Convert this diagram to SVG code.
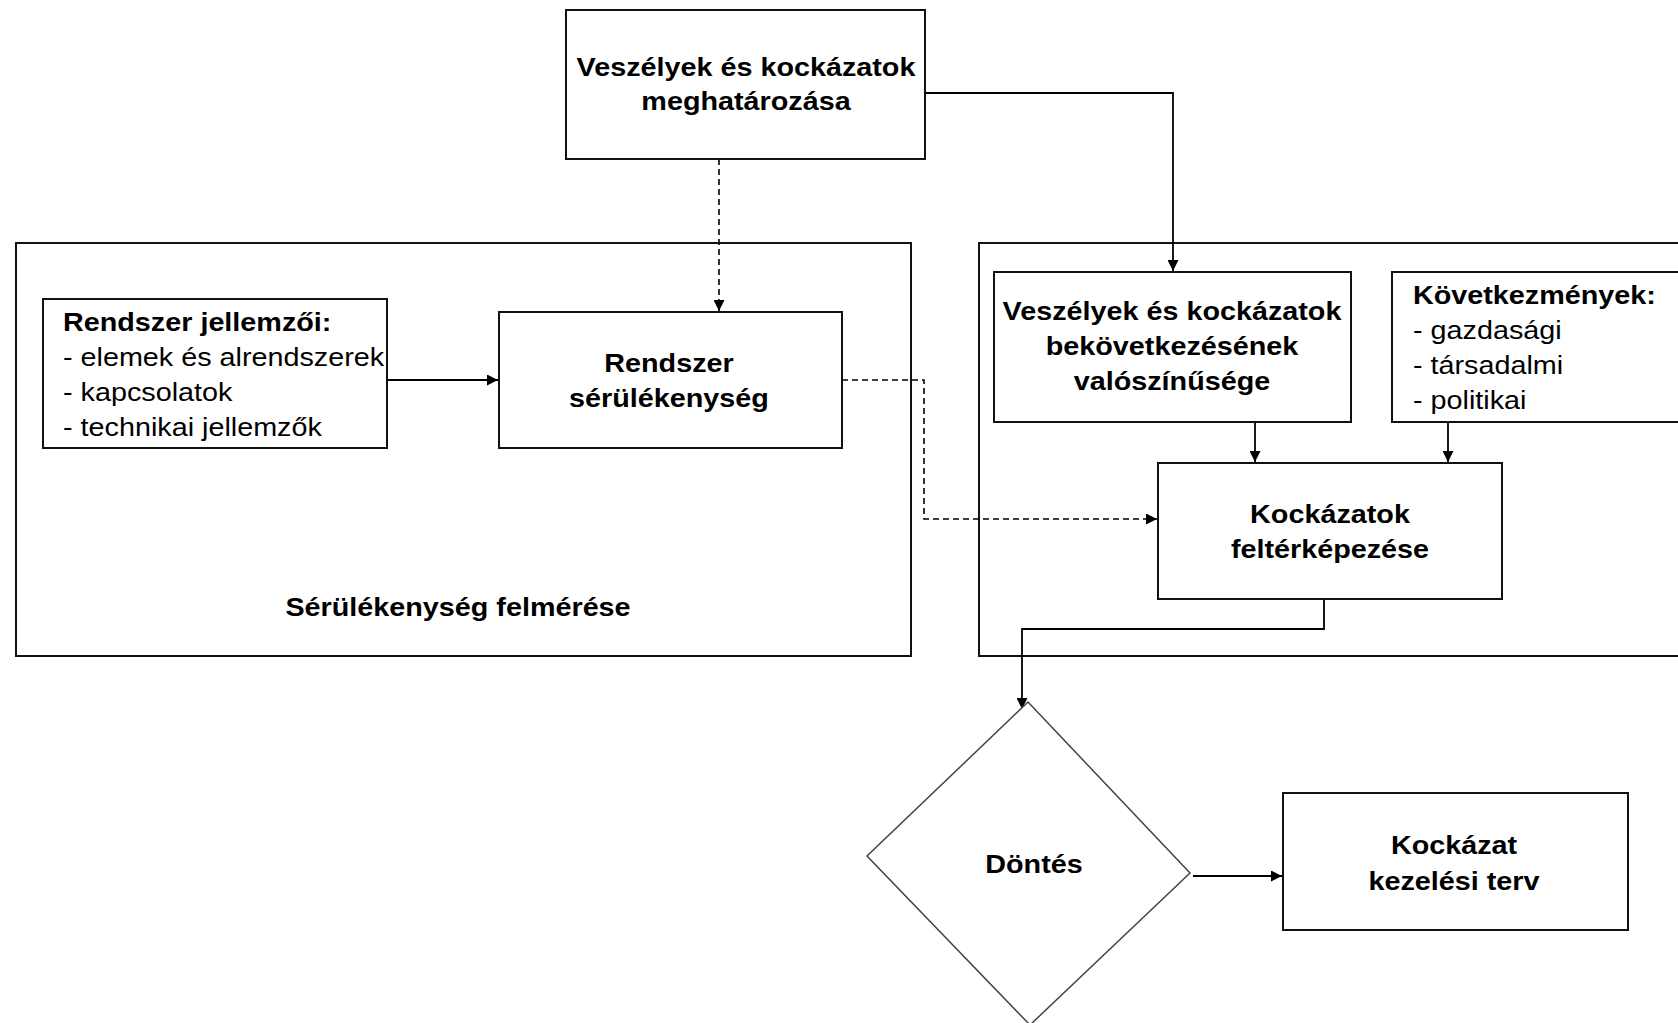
<svg xmlns="http://www.w3.org/2000/svg" width="1678" height="1023" viewBox="0 0 1678 1023">
<defs>
<style>
.box{fill:#fff;stroke:#111;stroke-width:2}
.cont{fill:none;stroke:#111;stroke-width:2}
.dia{fill:#fff;stroke:#444;stroke-width:1.5}
.ln{fill:none;stroke:#000;stroke-width:1.8}
.dash{fill:none;stroke:#000;stroke-width:1.6;stroke-dasharray:6 4}
text{font-family:"Liberation Sans",Arial,sans-serif;font-size:25px;fill:#000}
.b{font-weight:bold;text-anchor:middle}
.bl{font-weight:bold}
</style>
<marker id="ah" viewBox="0 0 10 10" refX="10" refY="5" markerWidth="11" markerHeight="11" markerUnits="userSpaceOnUse" orient="auto">
<path d="M0,0 L10,5 L0,10 z" fill="#000"/>
</marker>
</defs>
<rect width="1678" height="1023" fill="#fff"/>

<g id="container-left">
<rect class="cont" x="16" y="243" width="895" height="413"/>
<g transform="translate(458 0) scale(1.15 1)"><text class="b" x="0" y="616">Sérülékenység felmérése</text></g>
</g>
<g id="container-right">
<rect class="cont" x="979" y="243" width="720" height="413"/>
</g>

<g id="connectors">
<path class="ln" d="M925,93 H1173 V271" marker-end="url(#ah)"/>
<path class="dash" d="M719,159 V311" marker-end="url(#ah)"/>
<path class="ln" d="M387,380 H498" marker-end="url(#ah)"/>
<path class="dash" d="M842,380 H924 V519 H1157" marker-end="url(#ah)"/>
<path class="ln" d="M1255,422 V462" marker-end="url(#ah)"/>
<path class="ln" d="M1448,422 V462" marker-end="url(#ah)"/>
<path class="ln" d="M1324,599 V629 H1022 V709" marker-end="url(#ah)"/>
<path class="ln" d="M1193,876 H1282" marker-end="url(#ah)"/>
</g>

<g id="node-top">
<rect class="box" x="566" y="10" width="359" height="149"/>
<g transform="translate(746 0) scale(1.15 1)">
<text class="b" x="0" y="76">Veszélyek és kockázatok</text>
<text class="b" x="0" y="110">meghatározása</text>
</g>
</g>

<g id="node-jellemzoi">
<rect class="box" x="43" y="299" width="344" height="149"/>
<g transform="translate(63 0) scale(1.15 1)">
<text class="bl" x="0" y="331">Rendszer jellemzői:</text>
<text x="0" y="366">- elemek és alrendszerek</text>
<text x="0" y="401">- kapcsolatok</text>
<text x="0" y="436">- technikai jellemzők</text>
</g>
</g>

<g id="node-serulekenyseg">
<rect class="box" x="499" y="312" width="343" height="136"/>
<g transform="translate(669 0) scale(1.15 1)">
<text class="b" x="0" y="372">Rendszer</text>
<text class="b" x="0" y="407">sérülékenység</text>
</g>
</g>

<g id="node-valoszinuseg">
<rect class="box" x="994" y="272" width="357" height="150"/>
<g transform="translate(1172 0) scale(1.15 1)">
<text class="b" x="0" y="320">Veszélyek és kockázatok</text>
<text class="b" x="0" y="355">bekövetkezésének</text>
<text class="b" x="0" y="390">valószínűsége</text>
</g>
</g>

<g id="node-kovetkezmenyek">
<rect class="box" x="1392" y="272" width="300" height="150"/>
<g transform="translate(1413 0) scale(1.15 1)">
<text class="bl" x="0" y="304">Következmények:</text>
<text x="0" y="339">- gazdasági</text>
<text x="0" y="374">- társadalmi</text>
<text x="0" y="409">- politikai</text>
</g>
</g>

<g id="node-felterkepezes">
<rect class="box" x="1158" y="463" width="344" height="136"/>
<g transform="translate(1330 0) scale(1.15 1)">
<text class="b" x="0" y="523">Kockázatok</text>
<text class="b" x="0" y="558">feltérképezése</text>
</g>
</g>

<g id="node-dontes">
<path class="dia" d="M1028,702 L1190,873 L1030,1025 L867,856 Z"/>
<g transform="translate(1034 0) scale(1.15 1)">
<text class="b" x="0" y="873">Döntés</text>
</g>
</g>

<g id="node-kezelesi">
<rect class="box" x="1283" y="793" width="345" height="137"/>
<g transform="translate(1454 0) scale(1.15 1)">
<text class="b" x="0" y="854">Kockázat</text>
<text class="b" x="0" y="890">kezelési terv</text>
</g>
</g>
</svg>
